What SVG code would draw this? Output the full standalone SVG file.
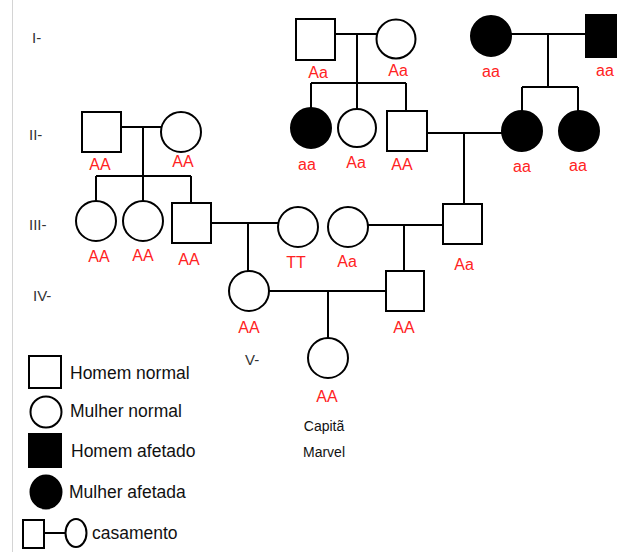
<svg xmlns="http://www.w3.org/2000/svg" width="617" height="552" viewBox="0 0 617 552">
<style>
.s{fill:#fff;stroke:#000;stroke-width:2}
.f{fill:#000;stroke:#000;stroke-width:2}
.l{fill:none;stroke:#000;stroke-width:2}
.g{font-family:"Liberation Sans",Arial,sans-serif;font-size:16px;fill:#f22;text-anchor:middle}
.gen{font-family:"Liberation Sans",Arial,sans-serif;font-size:15px;fill:#333}
.lg{font-family:"Liberation Sans",Arial,sans-serif;font-size:17.5px;fill:#111}
.cm{font-family:"Liberation Sans",Arial,sans-serif;font-size:14px;fill:#111;text-anchor:middle}
</style>
<rect width="617" height="552" fill="#fff"/>
<line x1="12.5" y1="0" x2="12.5" y2="552" stroke="#d4d4d4" stroke-width="1"/>
<g id="generations">
<text class="gen" x="32" y="43">I-</text>
<text class="gen" x="29" y="140">II-</text>
<text class="gen" x="29" y="230">III-</text>
<text class="gen" x="33" y="301">IV-</text>
<text class="gen" x="245" y="365">V-</text>
</g>
<g id="connectors">
<path class="l" d="M335 34H377M357 34V83M311 83H406M311 83V108M357 83V109M406 83V111"/>
<path class="l" d="M511 34H586M548 34V87M522 87H578M522 87V111M578 87V111"/>
<path class="l" d="M121 127H161M143 127V176M96 176H191M96 176V201M143 176V201M191 176V203"/>
<path class="l" d="M427 133H502M464 133V204"/>
<path class="l" d="M211 223H278M248 223V271"/>
<path class="l" d="M368 225H443M404 225V271"/>
<path class="l" d="M269 291H386M328 291V338"/>
</g>
<g id="I1"><rect class="s" x="296" y="19" width="39" height="41"/><text class="g" x="318" y="78">Aa</text></g>
<g id="I2"><circle class="s" cx="396" cy="39" r="19.5"/><text class="g" x="398" y="76">Aa</text></g>
<g id="I3"><circle class="f" cx="491" cy="36" r="20"/><text class="g" x="491" y="77">aa</text></g>
<g id="I4"><rect class="f" x="586" y="15" width="40" height="42"/><text class="g" x="605" y="76">aa</text></g>
<g id="II1"><rect class="s" x="82" y="112" width="39" height="40"/><text class="g" x="100" y="170">AA</text></g>
<g id="II2"><circle class="s" cx="181" cy="132" r="20"/><text class="g" x="183" y="167">AA</text></g>
<g id="II3"><circle class="f" cx="311" cy="128" r="20"/><text class="g" x="307" y="170">aa</text></g>
<g id="II4"><circle class="s" cx="357" cy="128" r="19"/><text class="g" x="356" y="168">Aa</text></g>
<g id="II5"><rect class="s" x="387" y="111" width="40" height="40"/><text class="g" x="402" y="170">AA</text></g>
<g id="II6"><circle class="f" cx="522" cy="131" r="20"/><text class="g" x="522" y="172">aa</text></g>
<g id="II7"><circle class="f" cx="579" cy="131" r="20"/><text class="g" x="578" y="171">aa</text></g>
<g id="III1"><circle class="s" cx="96" cy="221" r="20"/><text class="g" x="99" y="262">AA</text></g>
<g id="III2"><circle class="s" cx="143" cy="221" r="20"/><text class="g" x="143" y="261">AA</text></g>
<g id="III3"><rect class="s" x="172" y="203" width="39" height="40"/><text class="g" x="189" y="265">AA</text></g>
<g id="III4"><circle class="s" cx="298" cy="227" r="20"/><text class="g" x="296" y="268">TT</text></g>
<g id="III5"><circle class="s" cx="348" cy="227" r="20"/><text class="g" x="347" y="267">Aa</text></g>
<g id="III6"><rect class="s" x="443" y="204" width="39" height="40"/><text class="g" x="464" y="270">Aa</text></g>
<g id="IV1"><circle class="s" cx="249" cy="291" r="20"/><text class="g" x="249" y="333">AA</text></g>
<g id="IV2"><rect class="s" x="386" y="271" width="38" height="40"/><text class="g" x="404" y="333">AA</text></g>
<g id="V1"><circle class="s" cx="328" cy="358" r="20"/><text class="g" x="327" y="402">AA</text>
<text class="cm" x="324" y="431">Capitã</text><text class="cm" x="324" y="457">Marvel</text></g>
<g id="legend">
<rect class="s" x="29" y="356" width="32" height="32"/><text class="lg" x="70" y="379">Homem normal</text>
<circle class="s" cx="46" cy="412" r="15.5"/><text class="lg" x="70" y="417">Mulher normal</text>
<rect class="f" x="29" y="434" width="32" height="33"/><text class="lg" x="71" y="457">Homem afetado</text>
<ellipse class="f" cx="46" cy="492" rx="15.5" ry="16.5"/><text class="lg" x="69" y="498">Mulher afetada</text>
<rect class="s" x="23" y="520" width="21" height="28"/><line class="l" x1="44" y1="533" x2="66" y2="533"/><ellipse class="s" cx="76" cy="533" rx="10.5" ry="14"/><text class="lg" x="92" y="539">casamento</text>
</g>
</svg>
